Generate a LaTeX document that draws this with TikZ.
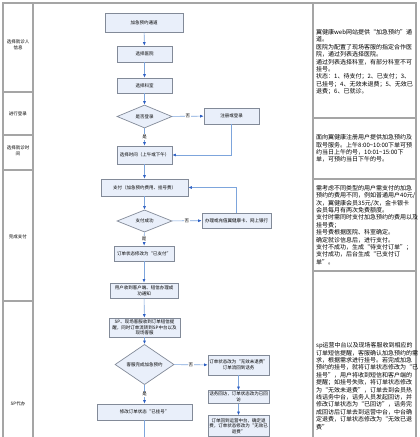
\documentclass[tikz,border=0pt]{standalone}
\usepackage{fontspec}
\setmainfont{Noto Sans CJK SC}
\usepackage{xcolor}
\usepackage{tikz}
\usetikzlibrary{
  arrows.meta,
  positioning,
  shapes.geometric
}
\definecolor{boxblue}{RGB}{233,239,250}
\definecolor{boxedge}{RGB}{130,138,152}
\definecolor{lanegray}{RGB}{165,165,165}
\definecolor{flowblue}{RGB}{125,165,220}
\definecolor{tipblue}{RGB}{45,95,195}
\newcommand{\boxfont}{\fontsize{4.5}{5.6}\selectfont}
\newcommand{\notefont}{\fontsize{6}{7.4}\selectfont}

\begin{document}
\begin{tikzpicture}[x=1pt,y=-1pt,
  act/.style ={draw=boxedge,fill=boxblue,line width=0.7pt,minimum width=55pt,
               minimum height=16pt,inner sep=1pt,font=\boxfont,align=center},
  ask/.style ={diamond,draw=boxedge,fill=boxblue,line width=0.7pt,minimum width=55pt,
               minimum height=23pt,inner sep=0pt,font=\boxfont},
  lane/.style={draw=lanegray,line width=1.2pt},
  lbl/.style ={font=\boxfont,align=center},
  note/.style={font=\notefont,align=left,anchor=west,inner sep=0pt},
  yn/.style  ={fill=white,inner sep=0.6pt,font=\boxfont},
  link/.style={draw=flowblue,line width=0.6pt},
  arr/.style ={link,-{Latex[length=3.5pt,width=3pt,color=tipblue]}},
]
\useasboundingbox (0,0) rectangle (420,437);

\draw[lane] (3,437) -- (3,3) -- (416,3) -- (416,437);
\draw[lane] (33,3) -- (33,437);
\draw[lane] (313,3) -- (313,437);
\foreach \y in {92,135,170,301} \draw[lane] (3,\y) -- (33,\y);
\foreach \y in {118,179,271} \draw[lane] (313,\y) -- (416,\y);

\node[lbl] (lanePerson) at (18,45)  {选择就诊人\\信息};
\node[lbl] (laneLogin)  at (18,114) {进行登录};
\node[lbl] (laneTime)   at (18,151) {选择就诊时\\间};
\node[lbl] (lanePay)    at (18,237) {完成支付};
\node[lbl] (laneSP)     at (18,404) {SP代办};

\node[act,minimum width=78pt,minimum height=19pt] (entry) at (144,22.5) {加急预约通道};
\node[act] (hosp)  at (144.5,54)   {选择医院};
\node[act,minimum height=15pt] (dept) at (144.5,85.5) {选择科室};
\node[ask] (login) at (144.5,116.5) {是否登录};
\node[act] (reg)   at (231.5,116)  {注册或登录};
\node[act,minimum height=18pt] (time) at (144.5,155) {选择时间（上午或下午）};
\node[act,minimum width=87pt,minimum height=17pt] (pay) at (144.5,187.5) {支付（加急预约费用、挂号费）};
\node[ask,minimum height=20pt] (payok) at (144.5,221) {支付成功};
\node[act,minimum width=69pt,minimum height=15pt] (card) at (236.5,220.5) {办理或充值翼健康卡、网上银行};
\node[act,minimum width=60pt,minimum height=15pt] (paid) at (144,253.5) {订单状态修改为“已支付”};
\node[act,minimum width=68pt,minimum height=15pt] (notice) at (144,290.5)
  {用户收到客户端、短信办理成\\功通知};
\node[act,minimum width=71pt,minimum height=19pt] (spget) at (144.5,327.5)
  {SP、现场客服收到订单短信提\\醒，同时订单流转到SP中台以及\\现场客服};
\node[ask,minimum width=59pt,minimum height=19pt] (done) at (144.5,364.5) {客服完成加急预约};
\node[act,minimum width=61pt,minimum height=20pt] (invalid) at (238.5,365)
  {订单状态改为“无效未退费”\\订单流回到话务};
\node[act,minimum width=95pt] (booked) at (144.5,412) {修改订单状态“已挂号”};
\node[act,minimum width=61pt,minimum height=13pt] (visit) at (238.5,397)
  {话务回访，订单状态改为已回\\访};
\node[act,minimum width=61pt,minimum height=21pt] (refund) at (238.5,426)
  {订单回到运营中台，确定退\\费，订单状态修改为“无效已\\退费”};
\coordinate (tail) at (144.5,437);

\draw[arr] (entry) -- (hosp);
\draw[arr] (hosp) -- (dept);
\draw[arr] (dept) -- (login);
\draw[arr] (login) -- node[yn] {是} (time);
\draw[arr] (login) -- node[yn] {否} (reg);
\draw[arr] (reg.south) |- (time.east);
\draw[arr] (time) -- (pay);
\draw[arr] (pay) -- (payok);
\draw[arr] (payok) -- node[yn] {是} (paid);
\draw[arr] (payok) -- node[yn] {否} (card);
\draw[arr] (card.north) |- (pay.east);
\draw[arr] (paid) -- (notice);
\draw[arr] (notice) -- (spget);
\draw[arr] (spget) -- (done);
\draw[arr] (done) -- node[yn] {是} (booked);
\draw[arr] (done) -- node[yn] {否} (invalid);
\draw[arr] (invalid) -- (visit);
\draw[arr] (visit) -- (refund);
\draw[link] (booked) -- (tail);

\node[note] (notePerson) at (316,62) {翼健康web网站提供“加急预约”通\\道。\\
  医院为配置了现场客服的指定合作医\\院，通过列表选择医院。\\
  通过列表选择科室，有部分科室不可\\挂号。\\
  状态：1、待支付；2、已支付；3、\\已挂号；4、无效未退费；5、无效已\\退费；6、已就诊。};
\node[note] (noteTime) at (316,148.5) {面向翼健康注册用户提供加急预约及\\
  取号服务。上午8:00\textasciitilde10:00下单可预\\约当日上午的号，10:01\textasciitilde15:00下\\
  单，可预约当日下午的号。};
\node[note] (notePay) at (316,225) {需考虑不同类型的用户需支付的加急\\
  预约的费用不同，例如普通用户40元/\\次，翼健康会员35元/次，金卡银卡\\
  会员每月有两次免费额度。\\
  支付时需同时支付加急预约的费用以及\\挂号费；\\
  挂号费根据医院、科室确定。\\
  确定就诊信息后，进行支付。\\
  支付不成功，生成“待支付订单”；\\支付成功，后台生成“已支付订\\单”。};
\node[note] (noteSP) at (316,386) {sp运营中台以及现场客服收到相应的\\
  订单短信提醒，客服确认加急预约的需\\求，根据需求进行挂号。若完成加急\\
  预约的挂号，就将订单状态修改为“已\\挂号”，用户将收到短信和客户端的\\
  提醒；如挂号失败，将订单状态修改\\为“无效未退费”，订单去到会员热\\
  线话务中台，话务人员发起回访，并\\修改订单状态为“已回访”，话务完\\
  成回访后订单去到运营中台，中台确\\定退费，订单状态修改为“无效已退\\费”};
\end{tikzpicture}
\end{document}
